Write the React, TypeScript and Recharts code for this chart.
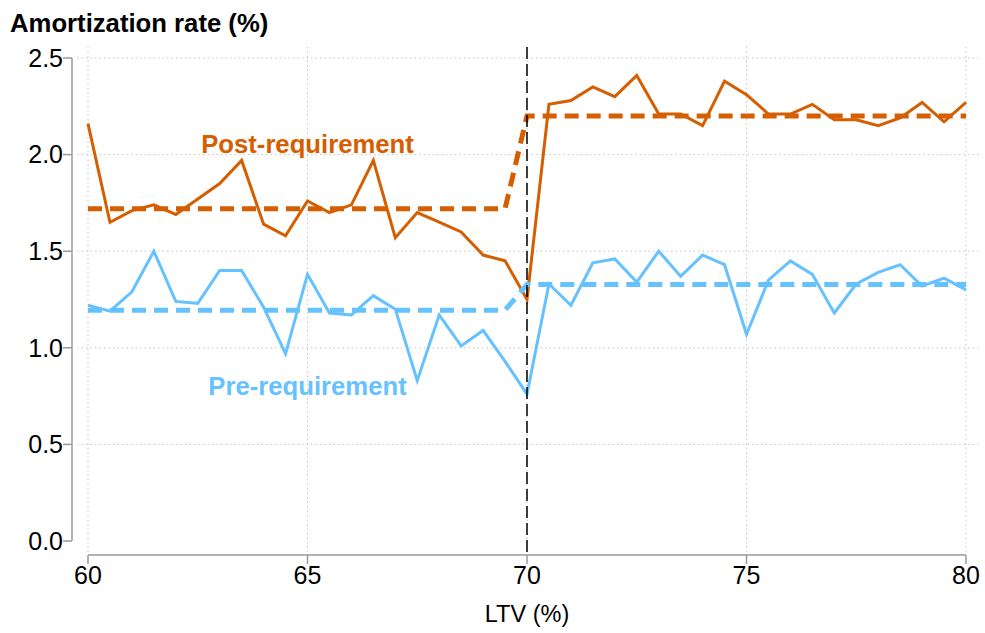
import React from 'react';
import { LineChart, Line, XAxis, YAxis, CartesianGrid, ReferenceLine, ReferenceDot } from 'recharts';

const ltv = [60, 60.5, 61, 61.5, 62, 62.5, 63, 63.5, 64, 64.5, 65, 65.5, 66, 66.5, 67, 67.5, 68, 68.5, 69, 69.5,
  70, 70.5, 71, 71.5, 72, 72.5, 73, 73.5, 74, 74.5, 75, 75.5, 76, 76.5, 77, 77.5, 78, 78.5, 79, 79.5, 80];

const postRate = [2.16, 1.65, 1.71, 1.74, 1.69, 1.77, 1.85, 1.97, 1.64, 1.58, 1.76, 1.70, 1.74, 1.97, 1.57, 1.70, 1.65, 1.60, 1.48, 1.45,
  1.25, 2.26, 2.28, 2.35, 2.30, 2.41, 2.21, 2.21, 2.15, 2.38, 2.31, 2.21, 2.21, 2.26, 2.18, 2.18, 2.15, 2.19, 2.27, 2.17, 2.27];

const preRate = [1.22, 1.19, 1.29, 1.50, 1.24, 1.23, 1.40, 1.40, 1.21, 0.97, 1.38, 1.18, 1.17, 1.27, 1.20, 0.83, 1.17, 1.01, 1.09, 0.93,
  0.76, 1.33, 1.22, 1.44, 1.46, 1.34, 1.50, 1.37, 1.48, 1.43, 1.07, 1.35, 1.45, 1.38, 1.18, 1.33, 1.39, 1.43, 1.32, 1.36, 1.30];

const postFit = [1.72, 1.72, 1.72, 1.72, 1.72, 1.72, 1.72, 1.72, 1.72, 1.72, 1.72, 1.72, 1.72, 1.72, 1.72, 1.72, 1.72, 1.72, 1.72, 1.72,
  2.2, 2.2, 2.2, 2.2, 2.2, 2.2, 2.2, 2.2, 2.2, 2.2, 2.2, 2.2, 2.2, 2.2, 2.2, 2.2, 2.2, 2.2, 2.2, 2.2, 2.2];

const preFit = [1.195, 1.195, 1.195, 1.195, 1.195, 1.195, 1.195, 1.195, 1.195, 1.195, 1.195, 1.195, 1.195, 1.195, 1.195, 1.195, 1.195, 1.195, 1.195, 1.195,
  1.327, 1.327, 1.327, 1.327, 1.327, 1.327, 1.327, 1.327, 1.327, 1.327, 1.327, 1.327, 1.327, 1.327, 1.327, 1.327, 1.327, 1.327, 1.327, 1.327, 1.327];

const xTicks = [60, 65, 70, 75, 80];
const yTicks = [0, 0.5, 1, 1.5, 2, 2.5];
const yGrid = [0.5, 1, 1.5, 2, 2.5];
const threshold = 70;

const annotations = [
  { x: 65, y: 2.055, text: 'Post-requirement', series: 'post' },
  { x: 65, y: 0.805, text: 'Pre-requirement', series: 'pre' },
];

const ORANGE = '#D55E00';
const BLUE = '#66C2FF';
const FONT = '"Liberation Sans", Arial, Helvetica, sans-serif';

const data = ltv.map((x, i) => ({
  ltv: x,
  post: postRate[i],
  pre: preRate[i],
  postFit: postFit[i],
  preFit: preFit[i],
}));

export default function App() {
  return (
    <div style={{ position: 'absolute', left: 0, top: 0, width: 985, height: 633, background: '#fff', fontFamily: FONT }}>
      <style>{`
        .recharts-xAxis { transform: translateY(3px); }
        .recharts-yAxis { transform: translateX(-5px); }
      `}</style>
      <div style={{ position: 'absolute', left: 10, top: 11, fontSize: 25.7, fontWeight: 700, lineHeight: 1, color: '#000', whiteSpace: 'nowrap' }}>
        Amortization rate (%)
      </div>
      <LineChart width={985} height={633} data={data} margin={{ top: 47, right: 5, bottom: 21, left: 7 }}>
        <CartesianGrid
          stroke="#c4c4c4"
          strokeDasharray="1.5 3"
          verticalValues={xTicks}
          horizontalValues={yGrid}
        />
        <XAxis
          dataKey="ltv"
          type="number"
          domain={[60, 80]}
          ticks={xTicks}
          padding={{ left: 11, right: 14 }}
          height={60}
          tickSize={9}
          tickMargin={5}
          axisLine={{ stroke: '#9a9a9a', strokeWidth: 1.5, strokeDasharray: '0 11 878 2000' }}
          tickLine={{ stroke: '#9a9a9a', strokeWidth: 1.5 }}
          tick={{ fill: '#000', fontSize: 25, fontFamily: FONT }}
          interval={0}
        />
        <YAxis
          type="number"
          domain={[0, 2.5]}
          ticks={yTicks}
          padding={{ top: 11, bottom: 11 }}
          width={70}
          tickSize={9}
          tickMargin={5}
          tickFormatter={(v: number) => v.toFixed(1)}
          axisLine={{ stroke: '#9a9a9a', strokeWidth: 1.5, strokeDasharray: '0 11 483 2000' }}
          tickLine={{ stroke: '#9a9a9a', strokeWidth: 1.5 }}
          tick={{ fill: '#000', fontSize: 25, fontFamily: FONT }}
          interval={0}
        />
        <Line dataKey="post" type="linear" stroke={ORANGE} strokeWidth={3} dot={false} isAnimationActive={false} />
        <Line dataKey="pre" type="linear" stroke={BLUE} strokeWidth={3} dot={false} isAnimationActive={false} />
        <Line dataKey="postFit" type="linear" stroke={ORANGE} strokeWidth={5} strokeDasharray="14 8" dot={false} isAnimationActive={false} />
        <Line dataKey="preFit" type="linear" stroke={BLUE} strokeWidth={5} strokeDasharray="14 8" dot={false} isAnimationActive={false} />
        <ReferenceLine x={threshold} stroke="#000" strokeWidth={1.5} strokeDasharray="12 5" />
        {annotations.map((a) => (
          <ReferenceDot
            key={a.text}
            x={a.x}
            y={a.y}
            r={1}
            fill="none"
            stroke="none"
            label={{
              value: a.text,
              position: 'center',
              fill: a.series === 'post' ? ORANGE : BLUE,
              fontSize: 25.7,
              fontWeight: 700,
              fontFamily: FONT,
            }}
          />
        ))}
      </LineChart>
      <div style={{ position: 'absolute', left: 427, width: 200, top: 603, fontSize: 23.5, lineHeight: 1, textAlign: 'center', color: '#000' }}>
        LTV (%)
      </div>
    </div>
  );
}
